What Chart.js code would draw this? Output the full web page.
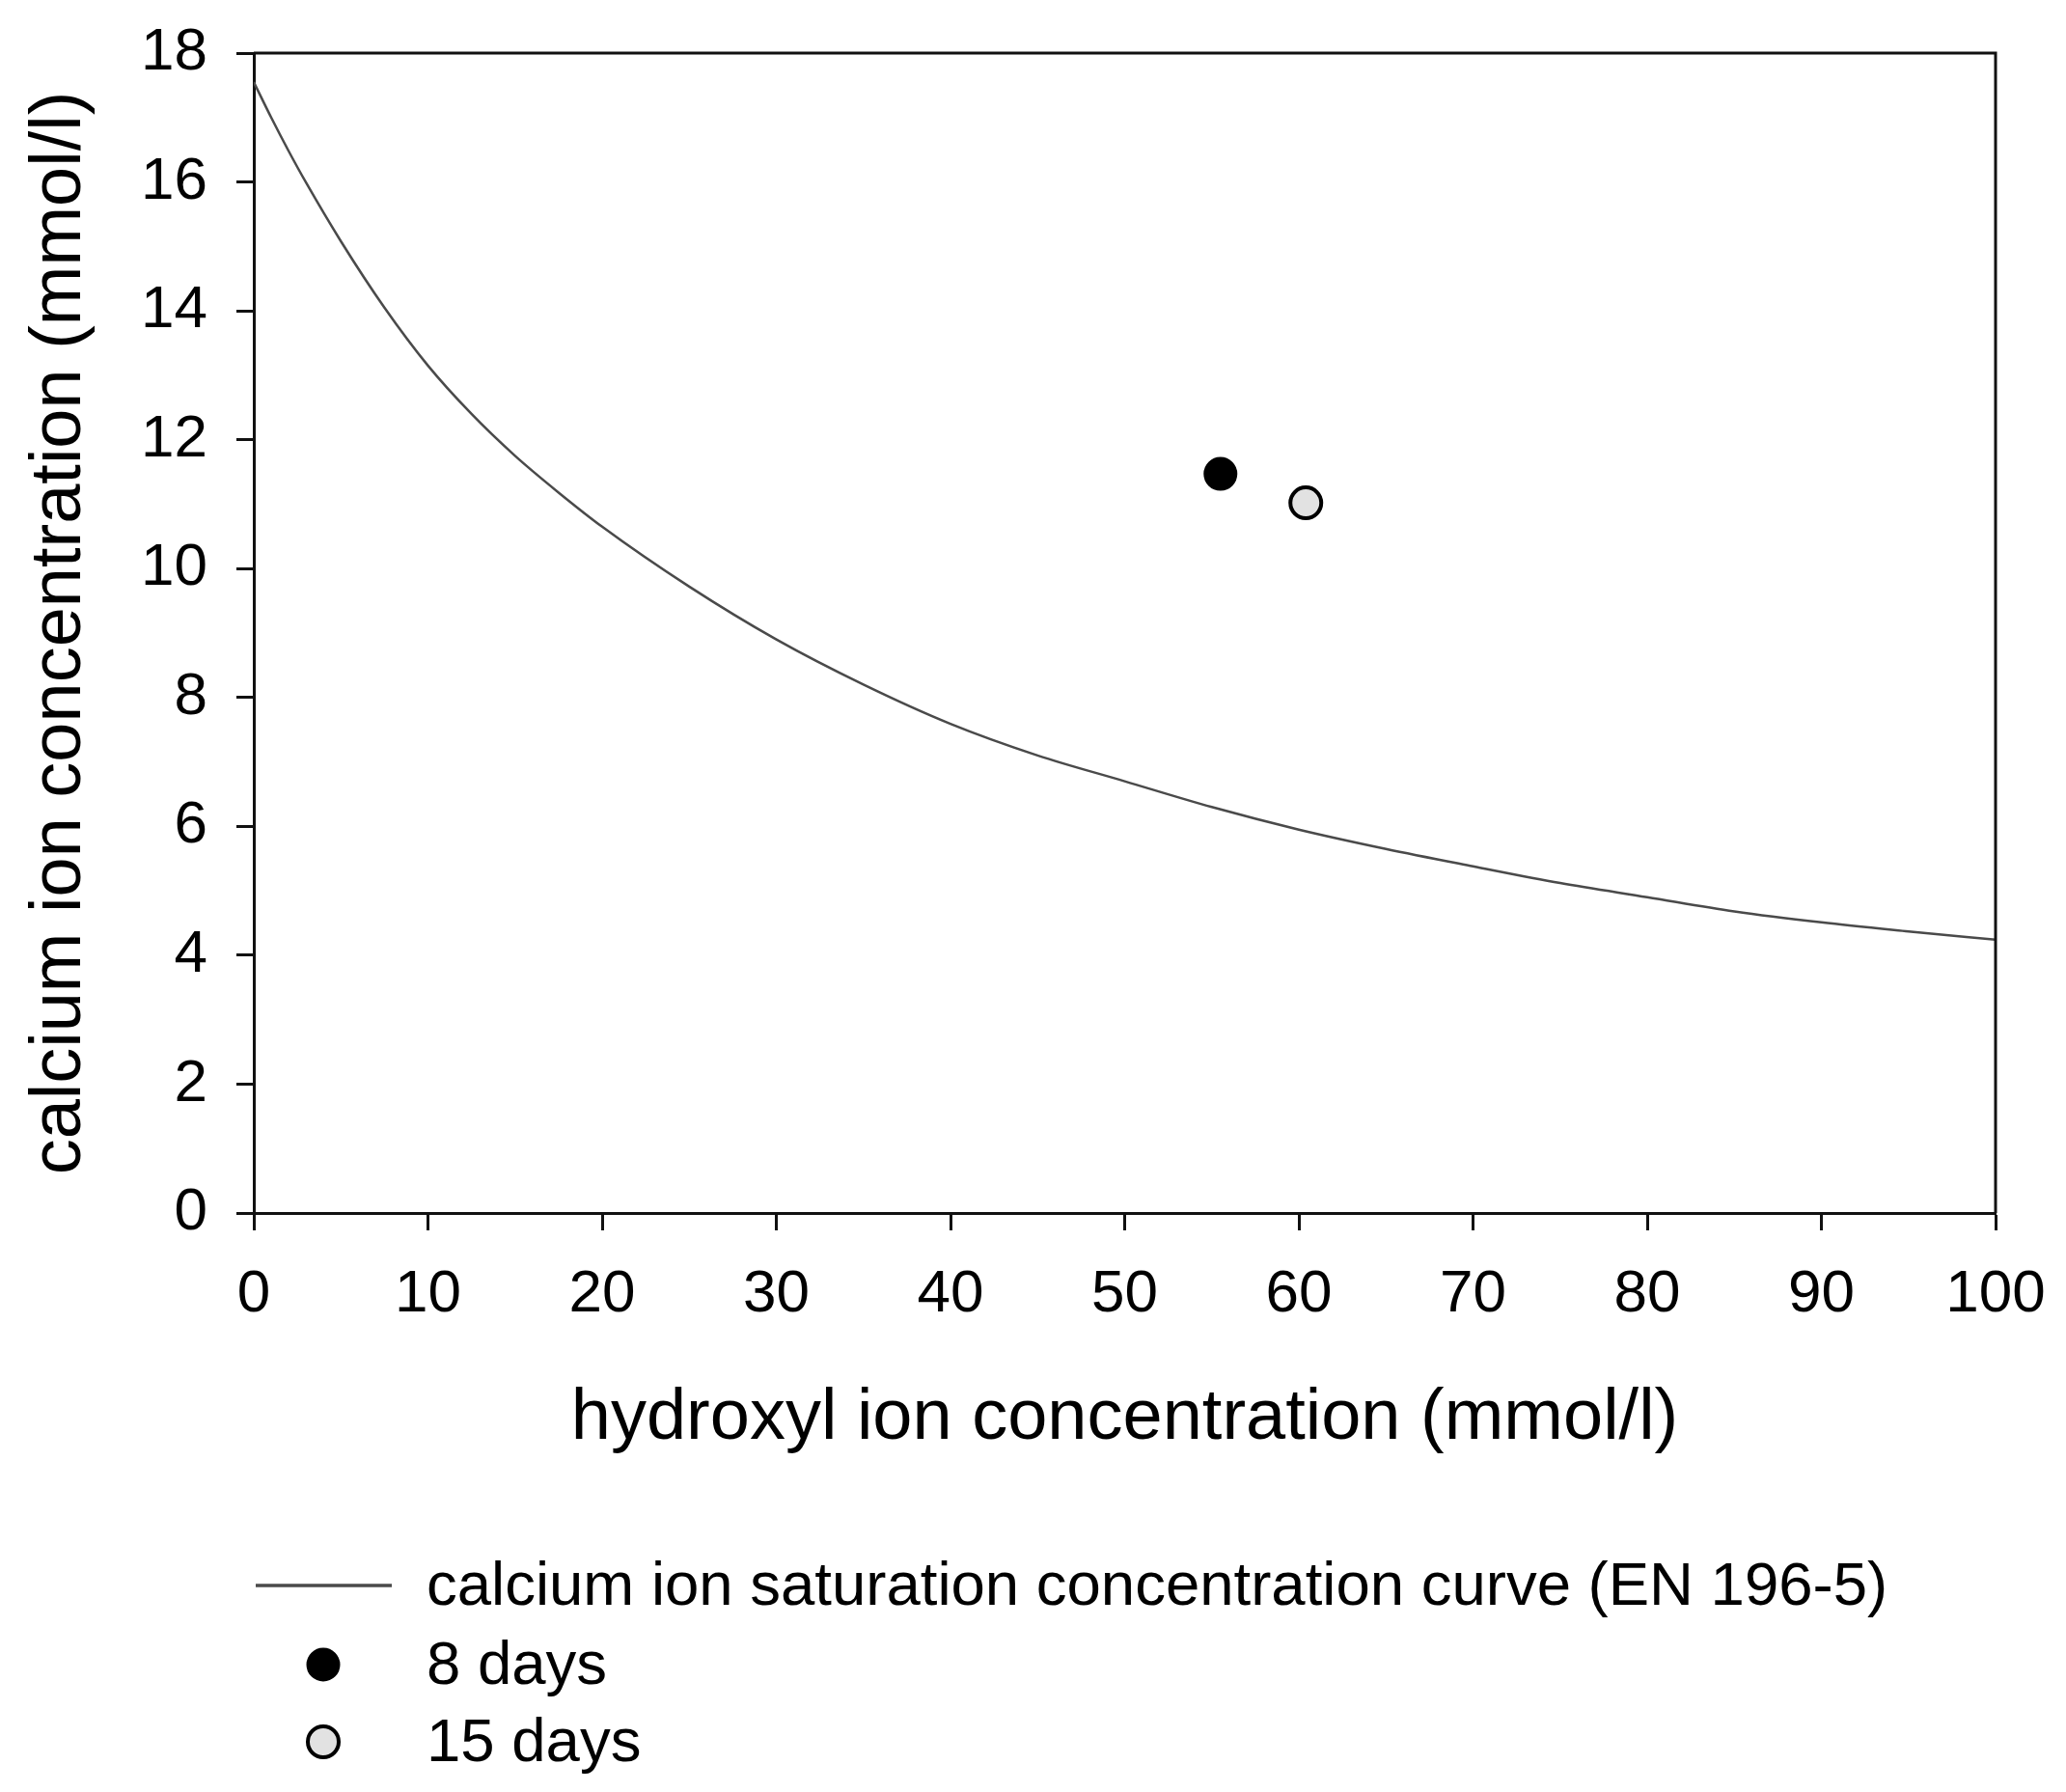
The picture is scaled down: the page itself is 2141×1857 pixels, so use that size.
<!DOCTYPE html>
<html>
<head>
<meta charset="utf-8">
<script src="https://cdn.jsdelivr.net/npm/chart.js@4/dist/chart.umd.min.js"></script>
<style>
  html, body { margin: 0; padding: 0; background: #fff; }
  #c { display: block; }
</style>
</head>
<body>
<canvas id="c" width="2141" height="1857" style="width:2141px;height:1857px"></canvas>
<script>
// ---- data ----
const curveLabel = 'calcium ion saturation concentration curve (EN 196-5)';
const curveX = [0, 1, 2, 3, 5, 7.5, 10, 12.5, 15, 17.5, 20, 25, 30, 35, 40, 45, 50, 55, 60, 65, 70, 75, 80, 85, 90, 95, 100];
const curveY = [17.55, 17.0, 16.48, 15.99, 15.08, 14.05, 13.15, 12.4, 11.75, 11.18, 10.65, 9.72, 8.9, 8.2, 7.59, 7.1, 6.7, 6.3, 5.95, 5.65, 5.38, 5.12, 4.9, 4.68, 4.51, 4.37, 4.24];

const day8Label = '8 days';
const day8X = [55.5];
const day8Y = [11.47];

const day15Label = '15 days';
const day15X = [60.4];
const day15Y = [11.02];

const xTickMin = 0, xTickMax = 100, xTickStep = 10;
const yTickMin = 0, yTickMax = 18, yTickStep = 2;

const xTitle = 'hydroxyl ion concentration (mmol/l)';
const yTitle = 'calcium ion concentration (mmol/l)';

const toPts = (xs, ys) => xs.map((x, i) => ({x: x, y: ys[i]}));

const FONT = "'Liberation Sans', Arial, Helvetica, sans-serif";

// frame (top/right lines) plugin
const framePlugin = {
  id: 'frame',
  afterDatasetsDraw(chart) {
    const {ctx, chartArea: a} = chart;
    ctx.save();
    ctx.strokeStyle = '#111';
    ctx.lineWidth = 3;
    ctx.beginPath();
    ctx.moveTo(a.left, a.top);
    ctx.lineTo(a.right, a.top);
    ctx.lineTo(a.right, a.bottom);
    ctx.stroke();
    ctx.restore();
  }
};

// vertical legend below the chart
const legendPlugin = {
  id: 'vlegend',
  afterDraw(chart) {
    const {ctx} = chart;
    const rows = [1643, 1725, 1805];
    const sampleL = 265, sampleR = 406, markerX = 335, textX = 442;
    ctx.save();
    ctx.font = '63.5px ' + FONT;
    ctx.textBaseline = 'middle';
    ctx.textAlign = 'left';
    chart.data.datasets.forEach((ds, i) => {
      const y = rows[i];
      if (ds.showLine) {
        ctx.strokeStyle = ds.borderColor;
        ctx.lineWidth = 3.5;
        ctx.beginPath();
        ctx.moveTo(sampleL, y);
        ctx.lineTo(sampleR, y);
        ctx.stroke();
      } else {
        ctx.beginPath();
        ctx.arc(markerX, y, ds.pointRadius, 0, Math.PI * 2);
        ctx.fillStyle = ds.pointBackgroundColor;
        ctx.fill();
        ctx.lineWidth = ds.pointBorderWidth;
        ctx.strokeStyle = ds.pointBorderColor;
        ctx.stroke();
      }
      ctx.fillStyle = '#000';
      ctx.fillText(ds.label, textX, y + 2);
    });
    ctx.restore();
  }
};

new Chart(document.getElementById('c'), {
  type: 'scatter',
  data: {
    datasets: [
      {
        label: curveLabel,
        data: toPts(curveX, curveY),
        showLine: true,
        borderColor: '#4a4a4a',
        borderWidth: 2.5,
        pointRadius: 0,
        cubicInterpolationMode: 'monotone',
        fill: false,
        order: 2
      },
      {
        label: day8Label,
        data: toPts(day8X, day8Y),
        showLine: false,
        pointRadius: 16,
        pointBackgroundColor: '#000',
        pointBorderColor: '#000',
        pointBorderWidth: 3,
        order: 1
      },
      {
        label: day15Label,
        data: toPts(day15X, day15Y),
        showLine: false,
        pointRadius: 16,
        pointBackgroundColor: '#e2e2e2',
        pointBorderColor: '#000',
        pointBorderWidth: 4,
        order: 0
      }
    ]
  },
  options: {
    responsive: false,
    animation: false,
    devicePixelRatio: 1,
    layout: { padding: { left: 0, top: 55, right: 73, bottom: 340 } },
    plugins: {
      legend: { display: false },
      tooltip: { enabled: false }
    },
    scales: {
      x: {
        type: 'linear',
        min: xTickMin, max: xTickMax,
        afterFit(scale) { scale.height = 260; scale.paddingLeft = 0; scale.paddingRight = 0; },
        ticks: { stepSize: xTickStep, color: '#000', font: { family: FONT, size: 62 }, padding: 30, maxRotation: 0 },
        grid: { drawOnChartArea: false, drawTicks: true, tickLength: 18, tickWidth: 3, tickColor: '#111' },
        border: { display: true, color: '#111', width: 3 },
        title: { display: true, text: xTitle, color: '#000', font: { family: FONT, size: 74 }, padding: { top: 0, bottom: 2 } }
      },
      y: {
        type: 'linear',
        min: yTickMin, max: yTickMax,
        afterFit(scale) { scale.width = 263; scale.paddingTop = 0; scale.paddingBottom = 0; },
        ticks: { stepSize: yTickStep, color: '#000', font: { family: FONT, size: 62 }, padding: 30 },
        grid: { drawOnChartArea: false, drawTicks: true, tickLength: 18, tickWidth: 3, tickColor: '#111' },
        border: { display: true, color: '#111', width: 3 },
        title: { display: true, text: yTitle, color: '#000', font: { family: FONT, size: 74 }, padding: { top: 18, bottom: 0 } }
      }
    }
  },
  plugins: [framePlugin, legendPlugin]
});
</script>
</body>
</html>
